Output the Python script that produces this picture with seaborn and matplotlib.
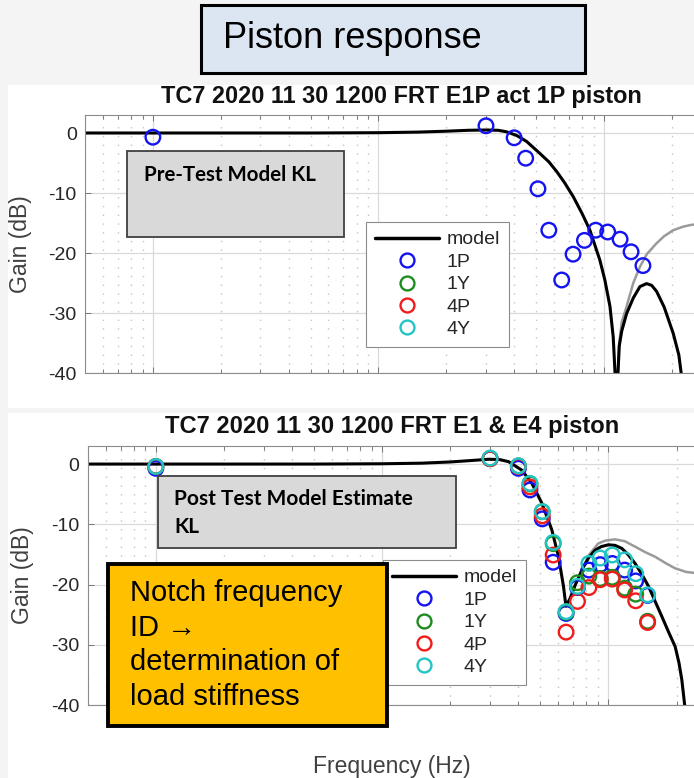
import numpy as np
import pandas as pd
import matplotlib
matplotlib.use("Agg")
import matplotlib.pyplot as plt
import seaborn as sns
from matplotlib.patches import Rectangle
from matplotlib.lines import Line2D
from matplotlib.ticker import NullLocator, LogLocator, NullFormatter

# ---------------- data ----------------
freq_pts = [1, 30, 40, 45, 51, 57, 65, 73, 82, 92, 104, 118, 132, 149]

top_1P = [-0.7, 1.2, -0.8, -4.2, -9.3, -16.2, -24.5, -20.2, -17.9, -16.2, -16.5, -17.7, -19.8, -22.1]

bot_1P = [-0.7, 0.9, -0.7, -4.3, -9.1, -16.3, -24.8, -20.5, -17.6, -16.7, -16.5, -17.6, -19.4, -21.8]
bot_1Y = [-0.4, 0.9, -0.3, -3.3, -7.9, -13.2, -24.6, -19.7, -18.6, -19.0, -18.8, -20.6, -21.6, -26.1]
bot_4P = [-0.4, 0.9, -0.4, -3.8, -8.6, -15.1, -27.9, -22.8, -20.5, -19.2, -19.1, -20.9, -22.7, -26.3]
bot_4Y = [-0.4, 1.0, -0.3, -3.2, -7.9, -13.0, -24.5, -20.3, -16.5, -15.6, -15.1, -15.9, -18.2, -21.7]

model_top_f = [0.5, 2, 5, 10, 15, 20, 25, 30, 34, 37, 41, 45.4, 52, 57, 61.7, 67, 73.1, 80,
               86.7, 96, 101, 106.4, 110, 113.8, 117, 120, 126.1, 135, 144.5, 154.6, 163,
               171.3, 185, 203, 215, 221]
model_top_g = [0.0, 0.0, 0.0, 0.05, 0.15, 0.3, 0.45, 0.5, 0.45, 0.2, -0.4, -1.4, -3.4, -4.8,
               -6.4, -8.3, -10.6, -13.4, -16.2, -21.2, -24.5, -28.9, -34.0, -45.0, -35.5,
               -33.0, -30.1, -27.5, -25.6, -25.1, -25.4, -26.4, -29.0, -33.4, -37.0, -40.5]
gray_top_f = [113.8, 117, 120, 126.1, 135, 144.5, 155, 171, 185, 203, 225, 245, 320]
gray_top_g = [-45.0, -35.0, -31.5, -28.9, -25.0, -22.3, -20.2, -18.4, -17.2, -16.2, -15.6, -15.3, -15.0]

model_bot_f = [0.5, 2, 5, 10, 15, 20, 25, 29.5, 33, 36.2, 41.4, 45.9, 50.8, 56.2, 60.2, 63.3,
               64.9, 67.7, 71.3, 76.3, 81.6, 87.3, 93, 100, 107, 114.6, 122, 131.2, 140,
               150.4, 160, 172.2, 185, 197.2, 205, 211, 218]
model_bot_g = [0.0, 0.0, 0.0, 0.05, 0.15, 0.35, 0.6, 0.8, 0.75, 0.4, -1.0, -3.2, -6.5, -10.9,
               -15.4, -20.3, -23.6, -22.3, -20.1, -17.6, -15.6, -14.3, -13.7, -13.4, -13.5,
               -14.0, -15.0, -16.5, -18.2, -20.3, -22.6, -25.3, -28.0, -30.3, -33.0, -35.8, -40.5]
gray_bot_f = [76.3, 81.6, 90, 97, 107, 118, 131, 145, 161, 180, 197, 220, 243, 320]
gray_bot_g = [-17.6, -15.2, -13.2, -12.7, -12.5, -12.8, -13.7, -14.6, -15.4, -16.5, -17.3, -17.9, -18.1, -17.6]

series_labels = ["1P", "1Y", "4P", "4Y"]
series_colors = ["#1414f0", "#1f8c1f", "#f01c1c", "#22c4c4"]

top_title = "TC7 2020 11 30 1200 FRT E1P act 1P piston"
bot_title = "TC7 2020 11 30 1200 FRT E1 & E4 piston"

# ---------------- figure ----------------
sns.set_style("white")
plt.rcParams["font.family"] = ["Liberation Sans", "DejaVu Sans"]
plt.rcParams["axes.unicode_minus"] = False

W, H = 694, 778
fig = plt.figure(figsize=(W / 100, H / 100), dpi=100, facecolor="#f4f4f4")


def fx(x):
    return x / W


def fy(y):
    return 1 - y / H


def frect(x0, y0, x1, y1, **kw):
    r = Rectangle((fx(x0), fy(y1)), (x1 - x0) / W, (y1 - y0) / H,
                  transform=fig.transFigure, **kw)
    fig.add_artist(r)
    return r


# white panels
frect(8, 85, 694, 408, facecolor="white", edgecolor="none", zorder=-1)
frect(8, 413, 694, 778, facecolor="white", edgecolor="none", zorder=-1)

xlim = (0.5, 316)
ax1 = fig.add_axes([fx(85), fy(373), np.log10(xlim[1] / xlim[0]) * 225.5 / W, 258 / H])
ax2 = fig.add_axes([fx(87.7), fy(705), np.log10(xlim[1] / xlim[0]) * 226.3 / W, 259 / H])

TXT = "#262626"


def setup(ax):
    ax.set_xscale("log")
    ax.set_xlim(*xlim)
    ax.set_ylim(-40, 3)
    ax.set_yticks([-40, -30, -20, -10, 0])
    ax.yaxis.set_minor_locator(NullLocator())
    ax.xaxis.set_major_locator(LogLocator(base=10, numticks=10))
    ax.xaxis.set_minor_locator(LogLocator(base=10, subs=np.arange(2, 10), numticks=30))
    ax.xaxis.set_major_formatter(NullFormatter())
    ax.xaxis.set_minor_formatter(NullFormatter())
    ax.grid(True, which="major", color="#dadada", lw=0.9)
    ax.grid(True, which="minor", axis="x", color="#c4c4c4", lw=1.0, ls=(0, (1, 5.3)))
    ax.set_axisbelow(True)
    ax.tick_params(which="both", direction="in", top=True, bottom=True, left=True,
                   right=False, length=4, width=0.6, color="#666666",
                   labelsize=14, labelcolor=TXT, pad=6)
    ax.tick_params(which="minor", length=3)
    for s in ax.spines.values():
        s.set_color("#8c8c8c")
        s.set_linewidth(0.8)
    ax.set_xlabel("")
    ax.set_ylabel("")


for ax in (ax1, ax2):
    setup(ax)

# model curves
sns.lineplot(x=gray_top_f, y=gray_top_g, ax=ax1, color="#9a9a9a", lw=1.8,
             sort=False, estimator=None, zorder=2)
sns.lineplot(x=model_top_f, y=model_top_g, ax=ax1, color="black", lw=2.2,
             sort=False, estimator=None, zorder=2.5)
sns.lineplot(x=gray_bot_f, y=gray_bot_g, ax=ax2, color="#9a9a9a", lw=1.8,
             sort=False, estimator=None, zorder=2)
sns.lineplot(x=model_bot_f, y=model_bot_g, ax=ax2, color="black", lw=2.2,
             sort=False, estimator=None, zorder=2.5)

# measured points
sns.scatterplot(x=freq_pts, y=top_1P, ax=ax1, color=series_colors[0], facecolors="none",
                edgecolor=series_colors[0], linewidth=1.7, s=110, zorder=3, legend=False)
for vals, c in zip([bot_1P, bot_1Y, bot_4P, bot_4Y], series_colors):
    sns.scatterplot(x=freq_pts, y=vals, ax=ax2, color=c, facecolors="none",
                    edgecolor=c, linewidth=1.7, s=110, zorder=3, legend=False)
for ax in (ax1, ax2):
    ax.set_xlabel("")
    ax.set_ylabel("")


def make_legend(ax, x0, y0):
    handles = [Line2D([], [], color="black", lw=2.5, label="model")]
    for lab, c in zip(series_labels, series_colors):
        handles.append(Line2D([], [], ls="none", marker="o", mfc="none", mec=c,
                              ms=10, mew=1.7, label=lab))
    leg = ax.legend(handles=handles, loc="upper left", bbox_to_anchor=(fx(x0), fy(y0)),
                    bbox_transform=fig.transFigure, fontsize=14, frameon=True,
                    fancybox=False, framealpha=1, edgecolor="#8c8c8c",
                    borderpad=0.45, labelspacing=0.25, handlelength=3.3,
                    handletextpad=0.4, borderaxespad=0)
    leg.get_frame().set_linewidth(0.8)
    for t in leg.get_texts():
        t.set_color(TXT)
    leg.set_zorder(4)


make_legend(ax1, 366, 222)
make_legend(ax2, 383, 560)

# titles and labels
fig.text(fx(401), fy(96), top_title, ha="center", va="center", fontsize=16.9,
         fontweight="bold", color="#111111")
fig.text(fx(392), fy(426.5), bot_title, ha="center", va="center", fontsize=17.1,
         fontweight="bold", color="#111111")
fig.text(fx(21), fy(244), "Gain (dB)", rotation=90, ha="center", va="center",
         fontsize=16.5, color="#404040")
fig.text(fx(23), fy(575), "Gain (dB)", rotation=90, ha="center", va="center",
         fontsize=16.5, color="#404040")
fig.text(fx(392), fy(767), "Frequency (Hz)", ha="center", va="center",
         fontsize=16.5, color="#404040")

# header box
frect(201, 5, 585, 73, facecolor="#dce6f2", edgecolor="black", lw=2.2, zorder=6)
fig.text(fx(223), fy(39), "Piston response", ha="left", va="center", fontsize=26,
         color="black", zorder=7)

# gray annotation boxes
BOXFONT = ["Lato", "DejaVu Sans"]
frect(127, 151, 344, 237, facecolor="#d9d9d9", edgecolor="#404040", lw=1.3, zorder=6)
fig.text(fx(144), fy(175), "Pre-Test Model KL", ha="left", va="center", fontsize=14.8,
         fontweight="bold", family=BOXFONT, color="black", zorder=7)

frect(158, 476, 456, 548, facecolor="#d9d9d9", edgecolor="#404040", lw=1.3, zorder=6)
fig.text(fx(174), fy(499), "Post Test Model Estimate", ha="left", va="center",
         fontsize=15, fontweight="bold", family=BOXFONT, color="black", zorder=7)
fig.text(fx(174), fy(527), "KL", ha="left", va="center",
         fontsize=15, fontweight="bold", family=BOXFONT, color="black", zorder=7)

# orange box
frect(108, 564, 387, 726, facecolor="#ffc000", edgecolor="black", lw=2.8, zorder=8)
for txt, yy in zip(["Notch frequency", "ID \u2192", "determination of", "load stiffness"],
                   [593, 628, 662, 697]):
    fig.text(fx(130), fy(yy), txt, ha="left", va="center", fontsize=21,
             color="black", zorder=9)

fig.savefig("out.png", dpi=100, facecolor=fig.get_facecolor())
